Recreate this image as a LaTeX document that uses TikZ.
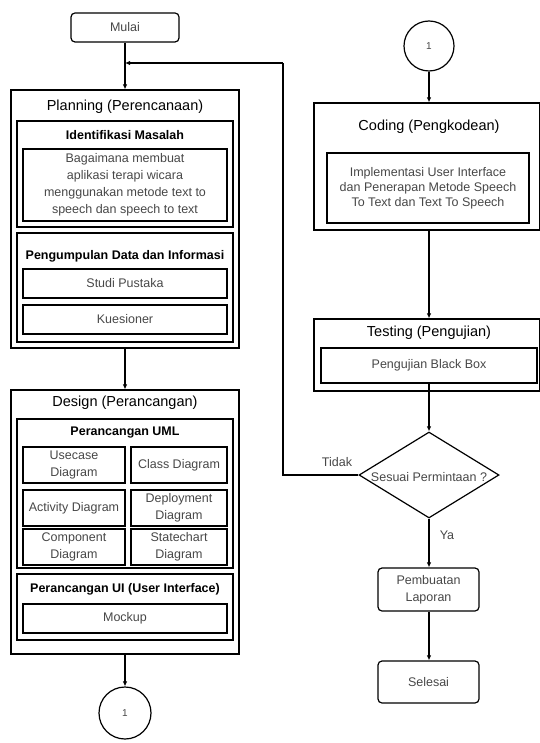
\documentclass[tikz,border=0pt]{standalone}
\usepackage{fontspec}
\setmainfont{Liberation Sans}
\usetikzlibrary{shapes.geometric,arrows.meta}
\begin{document}
\begin{tikzpicture}[x=1pt,y=-1pt,
  box/.style={draw, line width=1.2pt, inner sep=0pt, anchor=center},
  rbox/.style={box, rounded corners=4pt},
  content/.style={text=black!72, align=center, font=\fontsize{12.5}{17}\selectfont},
  ttl/.style={inner sep=0pt, text=black, font=\fontsize{14.5}{17}\selectfont},
  sub/.style={inner sep=0pt, text=black, font=\bfseries\fontsize{12.5}{15}\selectfont},
  arr/.style={-{Latex[length=5pt,width=4.5pt]}, line width=1.2pt},
  ln/.style={line width=1.2pt},
  conn/.style={box, circle, minimum size=#1, text=black!72, font=\fontsize{10}{12}\selectfont},
  lbl/.style={inner sep=0pt, text=black!72, font=\fontsize{12.5}{15}\selectfont}
]
\useasboundingbox (0,0) rectangle (539,743);

% ---------- left column ----------
\node[rbox, content, minimum width=108pt, minimum height=29pt] (mulai) at (125,27.5) {Mulai};

\node[box, minimum width=228pt, minimum height=258pt] (plan) at (125,219) {};
\node[ttl] (planT) at (125,107) {Planning (Perencanaan)};
\node[box, minimum width=216pt, minimum height=106pt] (ident) at (125,174) {};
\node[sub] (identT) at (125,135) {Identifikasi Masalah};
\node[box, content, minimum width=204pt, minimum height=72pt] (bag) at (125,185)
  {Bagaimana membuat\\aplikasi terapi wicara\\menggunakan metode text to\\speech dan speech to text};
\node[box, minimum width=216pt, minimum height=109pt] (kump) at (125,287.5) {};
\node[sub] (kumpT) at (125,256) {Pengumpulan Data dan Informasi};
\node[box, content, minimum width=204pt, minimum height=29pt] (studi) at (125,283.5) {Studi Pustaka};
\node[box, content, minimum width=204pt, minimum height=29pt] (kues) at (125,319.5) {Kuesioner};

\node[box, minimum width=228pt, minimum height=264pt] (design) at (125,522) {};
\node[ttl] (designT) at (125,403) {Design (Perancangan)};
\node[box, minimum width=216pt, minimum height=149pt] (uml) at (125,493.5) {};
\node[sub] (umlT) at (125,433) {Perancangan UML};
\node[box, content, minimum width=102pt, minimum height=36pt] (usecase) at (74,465) {Usecase\\Diagram};
\node[box, content, minimum width=96pt, minimum height=36pt] (class) at (179,465) {Class Diagram};
\node[box, content, minimum width=102pt, minimum height=36pt] (activity) at (74,508) {Activity Diagram};
\node[box, content, minimum width=96pt, minimum height=36pt] (deploy) at (179,508) {Deployment\\Diagram};
\node[box, content, minimum width=102pt, minimum height=36pt] (comp) at (74,547) {Component\\Diagram};
\node[box, content, minimum width=96pt, minimum height=36pt] (state) at (179,547) {Statechart\\Diagram};
\node[box, minimum width=216pt, minimum height=66pt] (ui) at (125,607) {};
\node[sub] (uiT) at (125,589) {Perancangan UI (User Interface)};
\node[box, content, minimum width=204pt, minimum height=29pt] (mock) at (125,618.5) {Mockup};

\node[conn=52pt] (c1b) at (125,713) {1};

% ---------- right column ----------
\node[conn=50pt] (c1t) at (429,46) {1};

\node[box, minimum width=226pt, minimum height=127pt] (coding) at (427,166.5) {};
\node[ttl] (codingT) at (429,127) {Coding (Pengkodean)};
\node[box, content, minimum width=202pt, minimum height=70pt, font=\fontsize{12.5}{15}\selectfont] (impl) at (428,188)
  {Implementasi User Interface\\dan Penerapan Metode Speech\\To Text dan Text To Speech};

\node[box, minimum width=226pt, minimum height=72pt] (test) at (427,355) {};
\node[ttl] (testT) at (429,333) {Testing (Pengujian)};
\node[box, content, minimum width=216pt, minimum height=35pt] (bb) at (429,365.5) {Pengujian Black Box};

\node[box, diamond, minimum width=140pt, minimum height=86pt] (dec) at (429,475) {};
\node[lbl] (decT) at (429,477) {Sesuai Permintaan ?};

\node[rbox, content, minimum width=101pt, minimum height=43pt] (lap) at (428.5,589.5) {Pembuatan\\Laporan};
\node[rbox, content, minimum width=101pt, minimum height=42pt] (sel) at (428.5,682) {Selesai};

\node[lbl] (tidak) at (337,462) {Tidak};
\node[lbl] (ya) at (447,535) {Ya};

\coordinate (join) at (125,63);
\coordinate (loopB) at (283,475);
\coordinate (loopT) at (283,63);

% ---------- connectors ----------
\draw[arr] (mulai.south) -- (plan.north);
\draw[arr] (plan.south) -- (design.north);
\draw[arr] (design.south) -- (c1b.north);
\draw[arr] (c1t.south) -- (c1t.south |- coding.north);
\draw[arr] (c1t.south |- coding.south) -- (c1t.south |- test.north);
\draw[arr] (bb.south) -- (dec.north);
\draw[arr] (dec.south) -- (dec.south |- lap.north);
\draw[arr] (dec.south |- lap.south) -- (dec.south |- sel.north);
\draw[ln] (dec.west) -- (loopB) -- (loopT);
\draw[arr] (loopT) -- (join);
\end{tikzpicture}
\end{document}
